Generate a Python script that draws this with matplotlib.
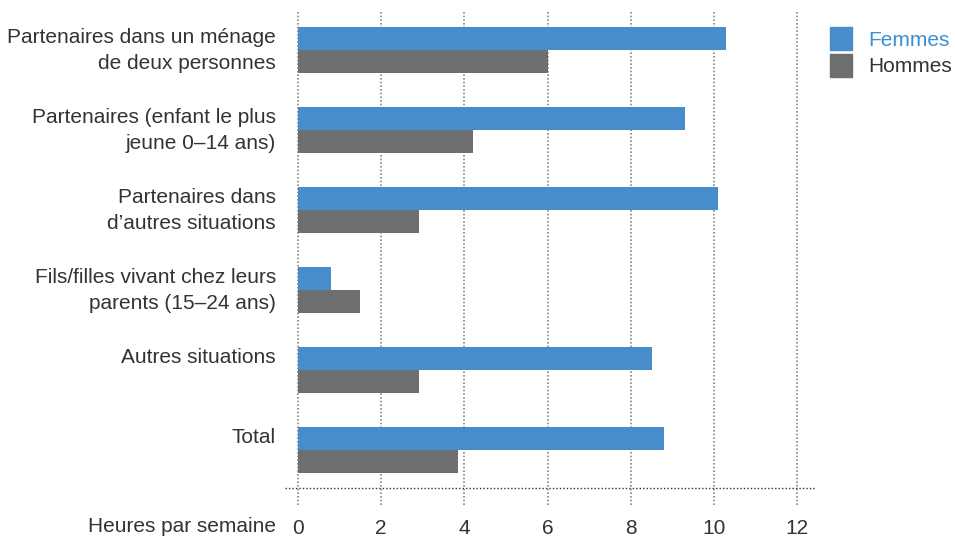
import matplotlib
matplotlib.use("Agg")
import matplotlib.pyplot as plt
from matplotlib.patches import Rectangle
import numpy as np

categories = [
    "Partenaires dans un ménage\nde deux personnes",
    "Partenaires (enfant le plus\njeune 0\u201314 ans)",
    "Partenaires dans\nd\u2019autres situations",
    "Fils/filles vivant chez leurs\nparents (15\u201324 ans)",
    "Autres situations",
    "Total",
]
femmes = [10.3, 9.3, 10.1, 0.8, 8.5, 8.8]
hommes = [6.0, 4.2, 2.9, 1.5, 2.9, 3.85]
xticks = [0, 2, 4, 6, 8, 10, 12]
series_labels = ["Femmes", "Hommes"]
xlabel = "Heures par semaine"

BLUE = "#478dcb"
GRAY = "#6d6e70"
TXT = "#333333"
FS = 15

plt.rcParams['font.family'] = ['Liberation Sans', 'DejaVu Sans']

W, H = 955, 538
fig = plt.figure(figsize=(W/100, H/100), dpi=100)
# axes from x pixel 285 to 815, y pixel 12 to 505
ax = fig.add_axes([285/W, 1-505/H, (815-285)/W, (505-12)/H])
px = 41.6
ax.set_xlim((285-298)/px, (815-298)/px)
ax.set_ylim((505-50)/80, (12-50)/80)

y = np.arange(len(categories))
h = 23/80
ax.barh(y - h/2, femmes, height=h, color=BLUE, zorder=3)
ax.barh(y + h/2, hommes, height=h, color=GRAY, zorder=3)

for xt in xticks:
    ax.axvline(xt, color="#888888", lw=1.2, ls=(0, (1, 1.2)), zorder=1)
ax.axhline((488-50)/80, color="#333333", lw=1, ls=(0, (1, 1.5)), zorder=2)

for s in ax.spines.values():
    s.set_visible(False)
ax.set_xticks(xticks)
ax.set_xticklabels([str(t) for t in xticks])
ax.tick_params(axis='x', length=0, pad=10, labelsize=FS, labelcolor=TXT)
ax.set_yticks([])

for i, c in enumerate(categories):
    ax.text(-22/px, i - 22/80, c, ha='right', va='top', fontsize=FS,
            color=TXT, linespacing=1.45, transform=ax.transData)

fig.text(276/W, 1-526/H, xlabel, ha='right', va='center', fontsize=FS, color=TXT)

# legend
fig.patches.append(Rectangle((830/W, 1-50/H), 22/W, 23/H, transform=fig.transFigure,
                             color=BLUE, figure=fig))
fig.patches.append(Rectangle((830/W, 1-77/H), 22/W, 23/H, transform=fig.transFigure,
                             color=GRAY, figure=fig))
fig.text(868/W, 1-40/H, series_labels[0], ha='left', va='center', fontsize=FS, color="#3a8fd3")
fig.text(868/W, 1-67/H, series_labels[1], ha='left', va='center', fontsize=FS, color=TXT)

fig.savefig("out.png", dpi=100)
